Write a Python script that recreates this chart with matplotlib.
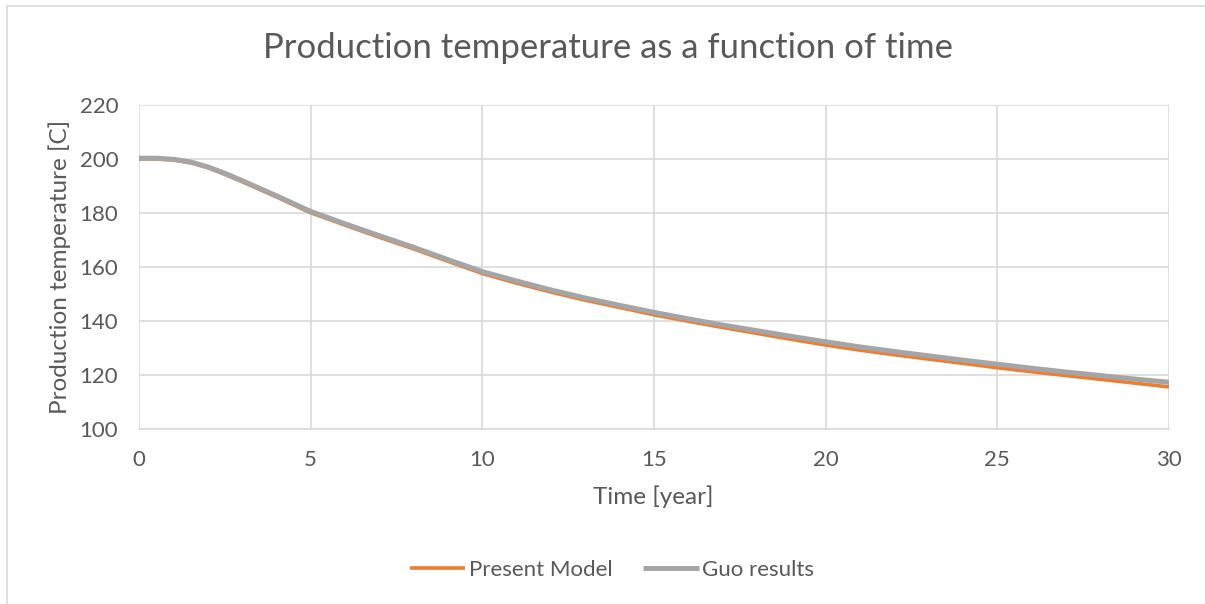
import matplotlib.pyplot as plt
from matplotlib.patches import Rectangle

years = [0, 0.5, 1, 1.5, 2, 2.5, 3, 3.5, 4, 4.5, 5, 6, 7, 8, 9, 10, 11, 12, 13,
         14, 15, 16, 17, 18, 19, 20, 21, 22, 23, 24, 25, 26, 27, 28, 29, 30]
present_model = [200.0, 200.0, 199.6, 198.6, 196.8, 194.3, 191.6, 188.8, 186.0,
                 183.0, 180.1, 175.5, 171.0, 166.7, 162.1, 157.6, 154.0, 150.7,
                 147.7, 145.0, 142.3, 139.9, 137.6, 135.4, 133.2, 131.1, 129.2,
                 127.5, 125.9, 124.3, 122.7, 121.2, 119.8, 118.4, 117.0, 115.6]
guo_results = [200.3, 200.3, 199.9, 198.9, 197.1, 194.7, 192.0, 189.2, 186.4,
               183.5, 180.6, 176.0, 171.6, 167.3, 162.7, 158.3, 154.8, 151.5,
               148.5, 145.8, 143.2, 140.8, 138.5, 136.4, 134.3, 132.3, 130.4,
               128.7, 127.1, 125.5, 124.0, 122.5, 121.1, 119.8, 118.5, 117.3]

plt.rcParams['font.family'] = ['Lato', 'DejaVu Sans']
text_color = '#595959'
grid_color = '#D9D9D9'

fig = plt.figure(figsize=(12.05, 6.04), dpi=100)
# chart border (only top and left edges fall inside the image)
fig.patches.append(Rectangle((7 / 1205, -0.1), 1.2, 1.1 - 6 / 604,
                             transform=fig.transFigure, fill=False,
                             edgecolor=grid_color, linewidth=1.2))

ax = fig.add_axes([139 / 1205, 1 - 429 / 604, 1030 / 1205, 324 / 604])
ax.plot(years, present_model, color='#ED7D31', linewidth=2.6, label='Present Model',
        solid_capstyle='butt', zorder=3)
ax.plot(years, guo_results, color='#A5A5A5', linewidth=3.6, label='Guo results',
        solid_capstyle='butt', zorder=4)

ax.set_xlim(0, 30)
ax.set_ylim(100, 220)
ax.set_xticks(range(0, 31, 5))
ax.set_yticks(range(100, 221, 20))
ax.grid(True, color=grid_color, linewidth=1.2)
ax.set_axisbelow(True)
for side in ['top', 'right', 'left']:
    ax.spines[side].set_visible(False)
ax.spines['bottom'].set_color(grid_color)
ax.spines['bottom'].set_linewidth(1.2)
ax.tick_params(length=0, labelsize=16, colors=text_color)
ax.tick_params(axis='x', pad=15)
ax.tick_params(axis='y', pad=15)

fig.text(653 / 1205, 1 - 497 / 604, 'Time [year]', ha='center', va='center',
         fontsize=17.5, color=text_color)
fig.text(60 / 1205, 1 - 267 / 604, 'Production temperature [C]', ha='center',
         va='center', rotation=90, fontsize=17.5, color=text_color)
fig.text(608 / 1205, 1 - 48 / 604, 'Production temperature as a function of time',
         ha='center', va='center', fontsize=25, color=text_color)

leg = ax.legend(loc='center', bbox_to_anchor=((612 - 139) / 1030, (429 - 570) / 324),
                ncol=2, frameon=False, fontsize=16, handlelength=2.5,
                columnspacing=1.4, handletextpad=0.15)
for t in leg.get_texts():
    t.set_color(text_color)

fig.savefig('out.png', dpi=100)
